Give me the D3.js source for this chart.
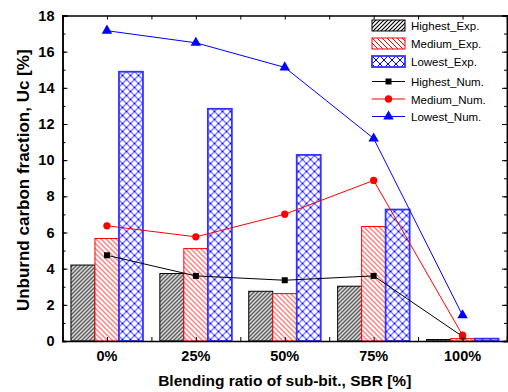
<!DOCTYPE html>
<html>
<head>
<meta charset="utf-8">
<script src="https://cdn.jsdelivr.net/npm/d3@7"></script>
<style>
  body { margin: 0; background: #fff; }
  text { font-family: "Liberation Sans", Arial, sans-serif; }
</style>
</head>
<body>
<div id="chart"></div>
<script>
// categories and values
var categories = ["0%", "25%", "50%", "75%", "100%"];
var highestExp = [4.2, 3.73, 2.75, 3.03, 0.08];
var mediumExp = [5.67, 5.11, 2.62, 6.33, 0.13];
var lowestExp = [14.89, 12.84, 10.29, 7.27, 0.13];
var highestNum = [4.74, 3.6, 3.36, 3.6, 0.25];
var mediumNum = [6.37, 5.76, 7.01, 8.88, 0.32];
var lowestNum = [17.16, 16.49, 15.13, 11.2, 1.42];
var yTicks = [0, 2, 4, 6, 8, 10, 12, 14, 16, 18];

var W = 508, H = 392;
var margin = {top: 15.5, right: 1, bottom: 51, left: 62.5},
    width = W - margin.left - margin.right,
    height = H - margin.top - margin.bottom;

var svg = d3.select("#chart").append("svg")
    .attr("width", W).attr("height", H);

var defs = svg.append("defs");
// hatch patterns
var p1 = defs.append("pattern").attr("id", "hatchBlack")
    .attr("patternUnits", "userSpaceOnUse").attr("width", 4).attr("height", 4);
p1.append("path").attr("d", "M-1,1 l2,-2 M0,4 l4,-4 M3,5 l2,-2")
    .attr("stroke", "#000").attr("stroke-width", 1.1);
var p2 = defs.append("pattern").attr("id", "hatchRed")
    .attr("patternUnits", "userSpaceOnUse").attr("width", 5).attr("height", 5);
p2.append("path").attr("d", "M-1,4 l2,2 M0,0 l5,5 M4,-1 l2,2")
    .attr("stroke", "#f00").attr("stroke-width", 1);
var p3 = defs.append("pattern").attr("id", "hatchBlue")
    .attr("patternUnits", "userSpaceOnUse").attr("width", 8).attr("height", 8);
p3.append("path").attr("d", "M0,0 L8,8 M8,0 L0,8")
    .attr("stroke", "#00f").attr("stroke-width", 1);

var g = svg.append("g")
    .attr("transform", "translate(" + margin.left + "," + margin.top + ")");

var x = d3.scaleBand().domain(categories).range([0, width]).paddingInner(0.19).paddingOuter(0.095);
var y = d3.scaleLinear().domain([0, 18]).range([height, 0]);
var groups = ["h", "m", "l"];
var x1 = d3.scaleBand().domain(groups).range([0, x.bandwidth()]);

var barSeries = [
  {key: "h", name: "Highest_Exp.", values: highestExp, fill: "url(#hatchBlack)", stroke: "#000", sw: 1},
  {key: "m", name: "Medium_Exp.", values: mediumExp, fill: "url(#hatchRed)", stroke: "#f00", sw: 1},
  {key: "l", name: "Lowest_Exp.", values: lowestExp, fill: "url(#hatchBlue)", stroke: "#33f", sw: 1.8}
];
var lineSeries = [
  {name: "Highest_Num.", values: highestNum, color: "#000", shape: d3.symbolSquare, size: 36},
  {name: "Medium_Num.", values: mediumNum, color: "#f00", shape: d3.symbolCircle, size: 42},
  {name: "Lowest_Num.", values: lowestNum, color: "#00f", shape: d3.symbolTriangle, size: 48}
];

// bars
barSeries.forEach(function(s) {
  g.selectAll(".bar-" + s.key).data(s.values).enter().append("rect")
    .attr("x", function(d, i) { return x(categories[i]) + x1(s.key); })
    .attr("y", function(d) { return y(d); })
    .attr("width", x1.bandwidth())
    .attr("height", function(d) { return height - y(d); })
    .attr("fill", "#fff").clone()
    .attr("fill", s.fill)
    .attr("stroke", s.stroke)
    .attr("stroke-width", s.sw);
});

// lines with markers
var cx = function(i) { return x(categories[i]) + x.bandwidth() / 2; };
lineSeries.forEach(function(s) {
  var line = d3.line().x(function(d, i) { return cx(i); }).y(function(d) { return y(d); });
  g.append("path").datum(s.values)
    .attr("d", line).attr("fill", "none")
    .attr("stroke", s.color).attr("stroke-width", 1);
  g.selectAll(null).data(s.values).enter().append("path")
    .attr("d", d3.symbol().type(s.shape).size(s.size))
    .attr("transform", function(d, i) { return "translate(" + cx(i) + "," + y(d) + ")"; })
    .attr("fill", s.color);
});

// axes (ticks pointing inward)
var fine = d3.range(0, 18.01, 1);
g.append("g").call(d3.axisLeft(y).tickValues(fine).tickSize(-3).tickFormat(""));
g.append("g").call(d3.axisLeft(y).tickValues(yTicks).tickSize(-5).tickPadding(8).tickFormat(d3.format("d")))
  .call(function(a) { a.selectAll("text").style("font-size", "14.5px").style("font-weight", "bold").attr("fill", "#000"); });
g.append("g").attr("transform", "translate(" + width + ",0)")
  .call(d3.axisRight(y).tickValues(fine).tickSize(-3).tickFormat(""));
g.append("g").attr("transform", "translate(" + width + ",0)")
  .call(d3.axisRight(y).tickValues(yTicks).tickSize(-5).tickFormat(""));

// x ticks at category centres and midpoints
var xTickPos = [];
categories.forEach(function(c, i) {
  xTickPos.push(cx(i));
  if (i < categories.length - 1) xTickPos.push((cx(i) + cx(i + 1)) / 2);
});
var xl = d3.scaleLinear().domain([0, width]).range([0, width]);
g.append("g").attr("transform", "translate(0," + height + ")")
  .call(d3.axisBottom(xl).tickValues(xTickPos).tickSize(-4).tickFormat(""));
g.append("g")
  .call(d3.axisTop(xl).tickValues(xTickPos).tickSize(-4).tickFormat(""));
g.append("g").attr("transform", "translate(0," + height + ")")
  .call(d3.axisBottom(x).tickSize(0).tickPadding(10))
  .call(function(a) {
    a.select(".domain").remove();
    a.selectAll("text").style("font-size", "14.5px").style("font-weight", "bold").attr("fill", "#000");
  });
g.selectAll(".domain").attr("stroke-width", 1.5);
g.selectAll(".tick line").attr("stroke", "#000");

// axis titles
svg.append("text")
  .attr("transform", "translate(29," + (margin.top + height / 2 + 2) + ") rotate(-90)")
  .attr("text-anchor", "middle")
  .style("font-size", "17px").style("font-weight", "bold")
  .text("Unburnd carbon fraction, Uc [%]");
svg.append("text")
  .attr("x", margin.left + width / 2).attr("y", 386)
  .attr("text-anchor", "middle")
  .style("font-size", "15.5px").style("font-weight", "bold")
  .text("Blending ratio of sub-bit., SBR [%]");

// legend
var lg = svg.append("g").attr("transform", "translate(372,20)");
barSeries.forEach(function(s, i) {
  var row = lg.append("g").attr("transform", "translate(0," + (i * 18) + ")");
  row.append("rect").attr("width", 33).attr("height", 11).attr("fill", s.fill)
    .attr("stroke", s.stroke).attr("stroke-width", s.sw);
  row.append("text").attr("x", 39).attr("y", 10).style("font-size", "11.5px").text(s.name);
});
lineSeries.forEach(function(s, i) {
  var row = lg.append("g").attr("transform", "translate(0," + (56 + i * 17.5 + 5.5) + ")");
  row.append("line").attr("x1", 0).attr("x2", 33).attr("stroke", s.color);
  row.append("path").attr("d", d3.symbol().type(s.shape).size(s.size))
    .attr("transform", "translate(16.5,0)").attr("fill", s.color);
  row.append("text").attr("x", 39).attr("y", 4.5).style("font-size", "11.5px").text(s.name);
});
</script>
</body>
</html>
